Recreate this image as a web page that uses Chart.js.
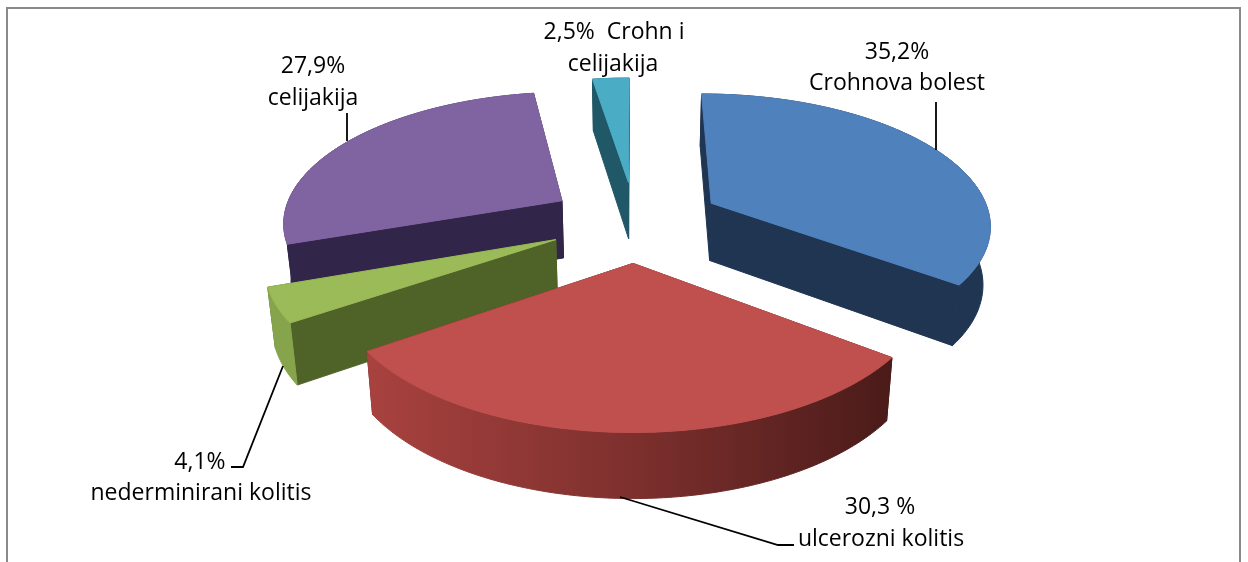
<!DOCTYPE html>
<html>
<head>
<meta charset="utf-8">
<style>
  body { margin: 0; background: #fff; }
  canvas { display: block; }
</style>
<script src="https://cdn.jsdelivr.net/npm/chart.js@4"></script>
</head>
<body>
<canvas id="myChart" width="1248" height="562"></canvas>
<script>
"use strict";
// values
var kategorije = ["Crohnova bolest", "ulcerozni kolitis", "nederminirani kolitis", "celijakija", "Crohn i celijakija"];
var postoci = [35.2, 30.3, 4.1, 27.9, 2.5];

// slice colours
var bojeVrh = ["#4f81bd", "#c0504d", "#9bbb59", "#8064a2", "#4bacc6"];
var bojeStrana = ["#1f3552", "#5a211f", "#4f6228", "#31254a", "#205867"];
var bojeRub = [
    ["#1f3552", "#1f3552"],
    ["#a8423f", "#7e302e", "#4a1b19"],
    ["#86a44c", "#86a44c"],
    ["#31254a", "#31254a"],
    ["#205867", "#205867"],
];

// text next to the pie: [text, x, y]
var natpisi = [
    ["35,2%", 897, 52],
    ["Crohnova bolest", 897, 83],
    ["30,3 %", 880, 507],
    ["ulcerozni kolitis", 881, 539],
    ["4,1%", 200, 462],
    ["nederminirani kolitis", 201, 493],
    ["27,9%", 313, 66],
    ["celijakija", 313, 98],
    ["2,5%  Crohn i", 614, 32],
    ["celijakija", 613, 64],
];
var vodice = [
    [[936, 150], [936, 102]],
    [[620, 497], [778, 545], [794, 545]],
    [[283, 366], [243, 467], [231, 467]],
    [[347, 141], [347, 113]],
];

// fake 3D view of the flat pie
var nagib = 0.465;
var perspektiva = 1900;
var perspektivaZ = 3000;
var suzenje = 2800;
var debljina = 58;

function tocka(el, u, v, z) {
    var f = 1 / (1 - v / perspektiva);
    var fz = 1 / (1 - v / perspektivaZ);
    return { x: el.x + u * f * (1 - z / suzenje), y: el.y + v * nagib * f + z * fz };
}

function lik(ctx, tocke, boja) {
    ctx.beginPath();
    tocke.forEach(function (t, i) {
        if (i === 0) ctx.moveTo(t.x, t.y);
        else ctx.lineTo(t.x, t.y);
    });
    ctx.closePath();
    ctx.fillStyle = boja;
    ctx.fill();
    ctx.strokeStyle = boja;
    ctx.lineWidth = 1;
    ctx.stroke();
}

var pie3d = {
    id: "pie3d",
    beforeDatasetsDraw: function (chart) {
        var ctx = chart.ctx;
        var lukovi = chart.getDatasetMeta(0).data.map(function (el, i) {
            var a0 = el.startAngle + Math.PI / 2;
            var a1 = el.endAngle + Math.PI / 2;
            var mid = (a0 + a1) / 2;
            var pomak = el.options.offset;
            var r = el.outerRadius;
            var px = Math.sin(mid) * pomak;
            var pv = -Math.cos(mid) * pomak;
            var rub = [];
            var koraka = Math.max(2, Math.ceil((a1 - a0) / 0.015));
            for (var k = 0; k <= koraka; k++) {
                var a = a0 + ((a1 - a0) * k) / koraka;
                rub.push([px + Math.sin(a) * r, pv - Math.cos(a) * r]);
            }
            return { el: el, i: i, px: px, pv: pv, rub: rub };
        });

        lukovi.sort(function (a, b) {
            return a.pv - b.pv;
        });

        lukovi.forEach(function (s) {
            var el = s.el;
            var sredina = [s.px, s.pv];
            var prvi = s.rub[0];
            var zadnji = s.rub[s.rub.length - 1];

            // the two cut faces, the one further back first
            [prvi, zadnji]
                .sort(function (a, b) {
                    return a[1] - b[1];
                })
                .forEach(function (kraj) {
                    lik(ctx, [
                        tocka(el, sredina[0], sredina[1], 0),
                        tocka(el, kraj[0], kraj[1], 0),
                        tocka(el, kraj[0], kraj[1], debljina),
                        tocka(el, sredina[0], sredina[1], debljina),
                    ], bojeStrana[s.i]);
                });

            // outer wall
            var gore = s.rub.map(function (p) {
                return tocka(el, p[0], p[1], 0);
            });
            var dolje = s.rub.map(function (p) {
                return tocka(el, p[0], p[1], debljina);
            }).reverse();
            var xs = gore.map(function (t) {
                return t.x;
            });
            var g = ctx.createLinearGradient(Math.min.apply(null, xs), 0, Math.max.apply(null, xs), 0);
            bojeRub[s.i].forEach(function (b, k, sve) {
                g.addColorStop(k / (sve.length - 1), b);
            });
            lik(ctx, gore.concat(dolje), g);

            // top
            lik(ctx, [tocka(el, s.px, s.pv, 0)].concat(gore), el.options.backgroundColor);
        });
        return false;
    },
    afterDraw: function (chart) {
        var ctx = chart.ctx;
        ctx.save();

        // chart frame, the bottom edge is cut off in the picture
        ctx.strokeStyle = "#8a8a8a";
        ctx.lineWidth = 2;
        ctx.beginPath();
        ctx.moveTo(7, 562);
        ctx.lineTo(7, 8);
        ctx.lineTo(1240, 8);
        ctx.lineTo(1240, 562);
        ctx.stroke();

        ctx.strokeStyle = "#000";
        ctx.lineWidth = 1.8;
        vodice.forEach(function (linija) {
            ctx.beginPath();
            linija.forEach(function (t, i) {
                if (i === 0) ctx.moveTo(t[0], t[1]);
                else ctx.lineTo(t[0], t[1]);
            });
            ctx.stroke();
        });

        ctx.fillStyle = "#000";
        ctx.font = "23px 'Open Sans'";
        ctx.textAlign = "center";
        ctx.textBaseline = "middle";
        natpisi.forEach(function (n) {
            ctx.fillText(n[0], n[1], n[2]);
        });
        ctx.restore();
    },
};

new Chart(document.getElementById("myChart").getContext("2d"), {
    type: "pie",
    data: {
        labels: kategorije,
        datasets: [
            {
                data: postoci,
                backgroundColor: bojeVrh,
                offset: 87,
                borderWidth: 0,
            },
        ],
    },
    options: {
        responsive: false,
        animation: false,
        radius: 280,
        layout: { padding: { left: 22, bottom: 120 } },
        plugins: {
            legend: { display: false },
            tooltip: { enabled: false },
        },
    },
    plugins: [pie3d],
});
</script>
</body>
</html>
